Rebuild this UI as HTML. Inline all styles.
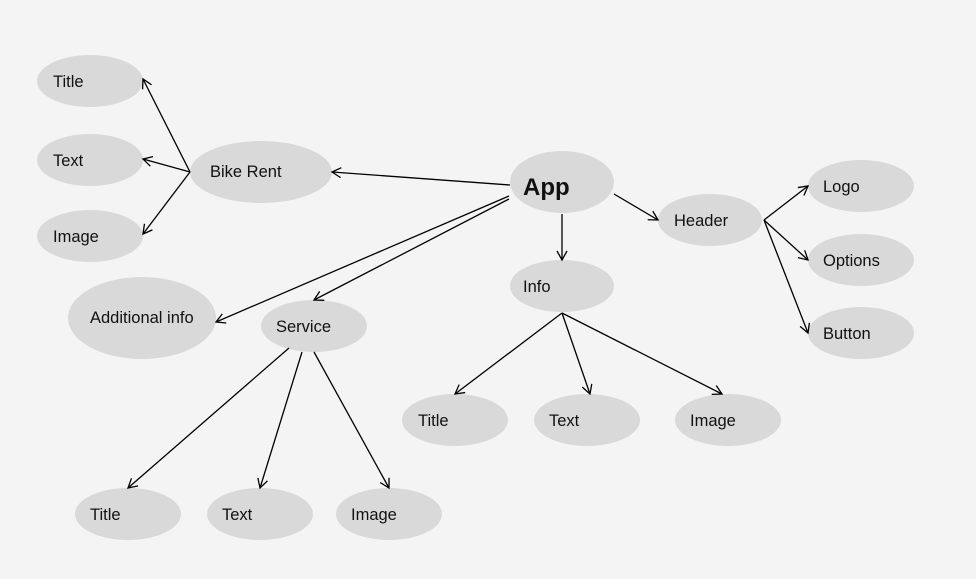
<!DOCTYPE html>
<html><head><meta charset="utf-8"><style>
html,body{margin:0;padding:0;background:#f4f4f4;}
svg{display:block}
text{font-family:"Liberation Sans",sans-serif;font-size:16.5px;fill:#111;}
</style></head><body>
<svg width="976" height="579" viewBox="0 0 976 579" xmlns="http://www.w3.org/2000/svg">
<defs>
<marker id="a" markerWidth="12" markerHeight="12" refX="10" refY="6" orient="auto" markerUnits="userSpaceOnUse">
<polyline points="1,1 10,6 1,11" fill="none" stroke="#000" stroke-width="1.3"/>
</marker>
</defs>
<rect width="976" height="579" fill="#f4f4f4"/>
<g fill="#d9d9d9">
<ellipse cx="90" cy="81" rx="53" ry="26"/>
<ellipse cx="90" cy="160" rx="53" ry="26"/>
<ellipse cx="90" cy="236" rx="53" ry="26"/>
<ellipse cx="261" cy="172" rx="71" ry="31"/>
<ellipse cx="562" cy="182" rx="52" ry="31"/>
<ellipse cx="710" cy="220" rx="52" ry="26"/>
<ellipse cx="861" cy="186" rx="53" ry="26"/>
<ellipse cx="861" cy="260" rx="53" ry="26"/>
<ellipse cx="861" cy="333" rx="53" ry="26"/>
<ellipse cx="562" cy="286" rx="52" ry="26"/>
<ellipse cx="142" cy="318" rx="74" ry="41"/>
<ellipse cx="314" cy="326" rx="53" ry="26"/>
<ellipse cx="455" cy="420" rx="53" ry="26"/>
<ellipse cx="587" cy="420" rx="53" ry="26"/>
<ellipse cx="728" cy="420" rx="53" ry="26"/>
<ellipse cx="128" cy="514" rx="53" ry="26"/>
<ellipse cx="260" cy="514" rx="53" ry="26"/>
<ellipse cx="389" cy="514" rx="53" ry="26"/>
</g>
<g stroke="#000" stroke-width="1.3" fill="none" marker-end="url(#a)">
<line x1="510" y1="185" x2="332" y2="172"/>
<line x1="190" y1="172" x2="143" y2="79"/>
<line x1="190" y1="172" x2="143" y2="159"/>
<line x1="190" y1="172" x2="143" y2="234"/>
<line x1="509" y1="196" x2="216" y2="322"/>
<line x1="509" y1="199" x2="314" y2="300"/>
<line x1="562" y1="214" x2="562" y2="260"/>
<line x1="614" y1="194" x2="658" y2="220"/>
<line x1="764" y1="220" x2="808" y2="186"/>
<line x1="764" y1="220" x2="808" y2="260"/>
<line x1="764" y1="220" x2="808" y2="333"/>
<line x1="562" y1="313" x2="455" y2="394"/>
<line x1="562" y1="313" x2="590" y2="394"/>
<line x1="562" y1="313" x2="722" y2="394"/>
<line x1="289" y1="348" x2="128" y2="488"/>
<line x1="302" y1="352" x2="260" y2="488"/>
<line x1="314" y1="352" x2="389" y2="488"/>
</g>
<text x="53" y="87">Title</text>
<text x="53" y="166">Text</text>
<text x="53" y="242">Image</text>
<text x="210" y="177">Bike Rent</text>
<text x="523" y="195" style="font-size:24px;font-weight:bold">App</text>
<text x="674" y="226">Header</text>
<text x="823" y="192">Logo</text>
<text x="823" y="266">Options</text>
<text x="823" y="339">Button</text>
<text x="523" y="292">Info</text>
<text x="90" y="323">Additional info</text>
<text x="276" y="332">Service</text>
<text x="418" y="426">Title</text>
<text x="549" y="426">Text</text>
<text x="690" y="426">Image</text>
<text x="90" y="520">Title</text>
<text x="222" y="520">Text</text>
<text x="351" y="520">Image</text>
</svg>
</body></html>
